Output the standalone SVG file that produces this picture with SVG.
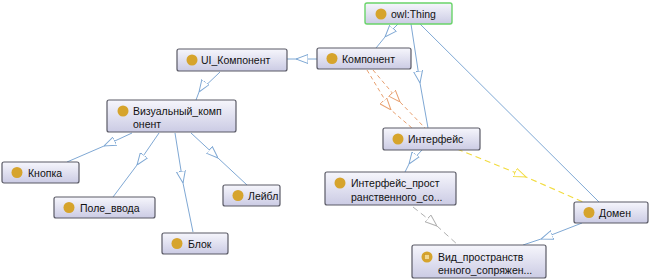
<svg xmlns="http://www.w3.org/2000/svg" width="651" height="280" viewBox="0 0 651 280">
<defs>
<linearGradient id="g" x1="0" y1="0" x2="0" y2="1">
<stop offset="0" stop-color="#f6f6fc"/>
<stop offset="1" stop-color="#cbcbe4"/>
</linearGradient>
<marker id="ab" viewBox="0 0 12 10" refX="12" refY="5" markerWidth="12" markerHeight="10" markerUnits="userSpaceOnUse" orient="auto">
<path d="M0,0.5 L12,5 L0,9.5 Z" fill="#fff" stroke="#7fa8d4" stroke-width="1"/>
</marker>
<marker id="ao" viewBox="0 0 12 10" refX="12" refY="5" markerWidth="12" markerHeight="10" markerUnits="userSpaceOnUse" orient="auto">
<path d="M0,0.5 L12,5 L0,9.5 Z" fill="#fff" stroke="#e8a070" stroke-width="1"/>
</marker>
<marker id="ay" viewBox="0 0 12 10" refX="12" refY="5" markerWidth="12" markerHeight="10" markerUnits="userSpaceOnUse" orient="auto">
<path d="M0,0.5 L12,5 L0,9.5 Z" fill="#fff" stroke="#f2dc40" stroke-width="1"/>
</marker>
<marker id="ag" viewBox="0 0 12 10" refX="12" refY="5" markerWidth="12" markerHeight="10" markerUnits="userSpaceOnUse" orient="auto">
<path d="M0,0.5 L12,5 L0,9.5 Z" fill="#fff" stroke="#b0b0b0" stroke-width="1"/>
</marker>
</defs>
<style>
.n{fill:url(#g);stroke:#5a5a66;stroke-width:1.2}
.top{fill:url(#g);stroke:#6ad46a;stroke-width:1.4}
.ic{fill:#d6a42c}
.t{font-family:"Liberation Sans",Arial,sans-serif;font-size:10.5px;fill:#111}
.e{fill:none;stroke:#7fa8d4;stroke-width:1;marker-mid:url(#ab)}
.eo{fill:none;stroke:#e8a070;stroke-width:1;stroke-dasharray:4 3;marker-mid:url(#ao)}
.ey{fill:none;stroke:#f2dc40;stroke-width:1.2;stroke-dasharray:6 4;marker-mid:url(#ay)}
.eg{fill:none;stroke:#b0b0b0;stroke-width:1;stroke-dasharray:6 4;marker-mid:url(#ag)}
</style>
<g id="connectors">
<path class="e" d="M398,24 L385,37 L376,48"/>
<path class="e" d="M411,24 L420,83 L428,128"/>
<path class="e" d="M420,24 L599,202"/>
<path class="e" d="M317,59 L296,59 L287,59"/>
<path class="e" d="M220,72 L199,92 L196,100"/>
<path class="e" d="M132,133 L104,146 L67,162"/>
<path class="e" d="M159,133 L137,165 L113,197"/>
<path class="e" d="M175,133 L183,183 L193,232"/>
<path class="e" d="M191,133 L218,158 L247,185"/>
<path class="e" d="M422,150 L409,164 L405,172"/>
<path class="e" d="M582,223 L541,239 L523,245"/>
<path class="eo" d="M367,70 L391,110 L412,128"/>
<path class="eo" d="M373,70 L400,102 L425,128"/>
<path class="ey" d="M457,149 L526,177 L583,202"/>
<path class="eg" d="M413,207 L437,226 L458,245"/>
</g>
<g id="owlThing"><rect class="top" x="365" y="3" width="87" height="21" rx="2"/><circle class="ic" cx="381" cy="14" r="5.5"/><text class="t" x="391" y="18">owl:Thing</text></g>
<g id="komponent"><rect class="n" x="317" y="48" width="94" height="21" rx="2"/><circle class="ic" cx="332" cy="58.5" r="5.5"/><text class="t" x="342" y="62.5">Компонент</text></g>
<g id="uiKomponent"><rect class="n" x="177" y="49" width="110" height="22" rx="2"/><circle class="ic" cx="192" cy="60" r="5.5"/><text class="t" x="201" y="64">UI_Компонент</text></g>
<g id="vizual"><rect class="n" x="107" y="100" width="129" height="32" rx="2"/><circle class="ic" cx="123" cy="111" r="5.5"/><text class="t" x="133" y="115">Визуальный_комп</text><text class="t" x="133" y="128">онент</text></g>
<g id="knopka"><rect class="n" x="2" y="162" width="77" height="21" rx="2"/><circle class="ic" cx="17" cy="172.5" r="5.5"/><text class="t" x="28" y="176.5">Кнопка</text></g>
<g id="pole"><rect class="n" x="54" y="197" width="101" height="21" rx="2"/><circle class="ic" cx="69" cy="207.5" r="5.5"/><text class="t" x="80" y="211.5">Поле_ввода</text></g>
<g id="blok"><rect class="n" x="162" y="233" width="66" height="21" rx="2"/><circle class="ic" cx="177" cy="243.5" r="5.5"/><text class="t" x="188" y="247.5">Блок</text></g>
<g id="leibl"><rect class="n" x="223" y="185" width="57" height="21" rx="2"/><circle class="ic" cx="238" cy="195.5" r="5.5"/><text class="t" x="248" y="199.5">Лейбл</text></g>
<g id="interfeis"><rect class="n" x="383" y="128" width="97" height="22" rx="2"/><circle class="ic" cx="398" cy="139" r="5.5"/><text class="t" x="408" y="143">Интерфейс</text></g>
<g id="interfeisProst"><rect class="n" x="325" y="172" width="131" height="33" rx="2"/><circle class="ic" cx="340" cy="183" r="5.5"/><text class="t" x="351" y="187">Интерфейс_прост</text><text class="t" x="351" y="201">ранственного_со...</text></g>
<g id="domen"><rect class="n" x="574" y="202" width="74" height="21" rx="2"/><circle class="ic" cx="589" cy="212.5" r="5.5"/><text class="t" x="599" y="216.5">Домен</text></g>
<g id="vid"><rect class="n" x="412" y="245" width="134" height="33" rx="2"/><circle class="ic" cx="427" cy="257" r="5.5"/><rect x="424.5" y="254.5" width="5" height="5" fill="#f2d890" stroke="#c89020" stroke-width="0.6"/><text class="t" x="438" y="261">Вид_пространств</text><text class="t" x="438" y="274">енного_сопряжен...</text></g>
</svg>
